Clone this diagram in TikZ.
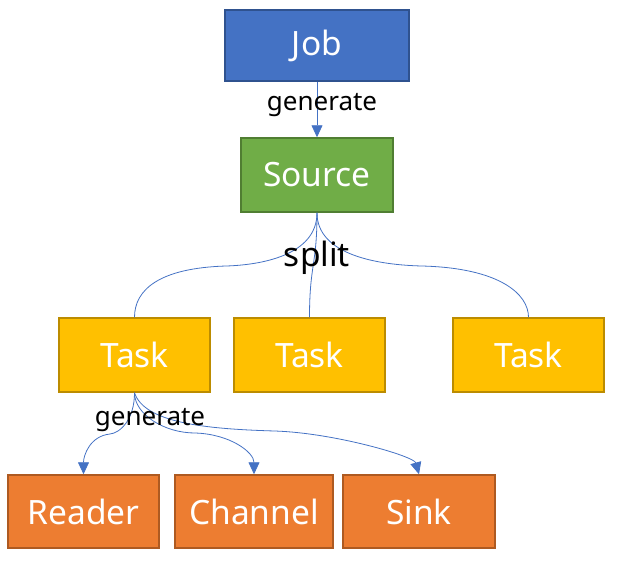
\documentclass[tikz,border=0pt]{standalone}
\usepackage{fontspec}
\setmainfont{Noto Sans}
\usetikzlibrary{arrows.meta}
\definecolor{jobfill}{HTML}{4472C4}
\definecolor{jobline}{HTML}{2F528F}
\definecolor{srcfill}{HTML}{70AD47}
\definecolor{srcline}{HTML}{507E32}
\definecolor{taskfill}{HTML}{FFC000}
\definecolor{taskline}{HTML}{BC8C00}
\definecolor{orfill}{HTML}{ED7D31}
\definecolor{orline}{HTML}{AE5A21}
\definecolor{conn}{HTML}{4472C4}
\tikzset{
  box/.style={draw, line width=1.5pt, inner sep=0pt, text=white,
    font=\fontsize{33.5}{38}\selectfont},
  lbl/.style={inner sep=0pt, text=black},
  link/.style={draw=conn, line width=0.8pt},
  arr/.style={link, -{Triangle[length=12pt,width=11pt]}}
}
\begin{document}
\begin{tikzpicture}[x=1pt,y=-1pt]
\useasboundingbox (0,0) rectangle (620,560);
\node[box, fill=jobfill, draw=jobline, minimum width=184pt, minimum height=71pt] (job) at (317,45.5) {Job};
\node[box, fill=srcfill, draw=srcline, minimum width=152pt, minimum height=74pt] (src) at (317,175) {Source};
\node[box, fill=taskfill, draw=taskline, minimum width=151pt, minimum height=74pt] (t1) at (134.5,355) {Task};
\node[box, fill=taskfill, draw=taskline, minimum width=151pt, minimum height=74pt] (t2) at (309.5,355) {Task};
\node[box, fill=taskfill, draw=taskline, minimum width=151pt, minimum height=74pt] (t3) at (528.5,355) {Task};
\node[box, fill=orfill, draw=orline, minimum width=151pt, minimum height=73pt] (rd) at (83.5,511.5) {Reader};
\node[box, fill=orfill, draw=orline, minimum width=158pt, minimum height=73pt] (ch) at (254,511.5) {Channel};
\node[box, fill=orfill, draw=orline, minimum width=152pt, minimum height=73pt] (sk) at (419,511.5) {Sink};

\draw[arr] (job.south) -- (src.north);

\coordinate (sl) at (226,266);
\coordinate (sr) at (422,266);
\draw[link] (src.south) .. controls +(0,43) and +(34,-1) .. (sl) .. controls +(-66,2) and +(0,-28) .. (t1.north);
\draw[link] (src.south) .. controls +(0,53) and +(0,-53) .. (t2.north);
\draw[link] (src.south) .. controls +(0,43) and +(-42,-1) .. (sr) .. controls +(78,2) and +(0,-23) .. (t3.north);

\coordinate (gr) at (110,434);
\coordinate (gc) at (195,433);
\coordinate (gs) at (275,431);
\draw[arr] (t1.south) .. controls +(0,27) and +(10,-1) .. (gr) .. controls +(-20,2) and +(0,-19) .. (rd.north);
\draw[arr] (t1.south) .. controls +(0,22) and +(-30,0) .. (gc) .. controls +(35,1) and +(0,-22) .. (ch.north);
\draw[arr] (t1.south) .. controls +(10,30) and +(-70,-2) .. (gs) .. controls +(60,2) and +(-5,-18) .. (sk.north);

\node[lbl, font=\fontsize{26}{30}\selectfont] (g1) at (322,105) {generate};
\node[lbl, font=\fontsize{33.5}{38}\selectfont] (sp) at (317,258) {split};
\node[lbl, font=\fontsize{26}{30}\selectfont] (g2) at (150,420) {generate};
\end{tikzpicture}
\end{document}
